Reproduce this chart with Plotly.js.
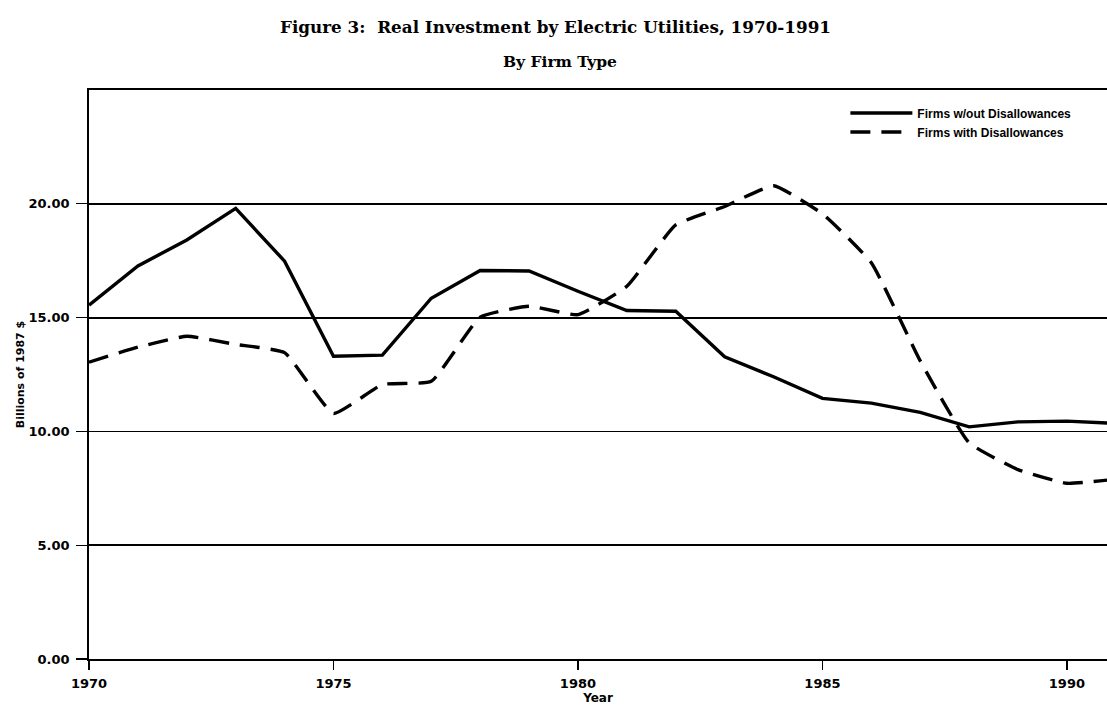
<!DOCTYPE html>
<html>
<head>
<meta charset="utf-8">
<script src="https://cdn.plot.ly/plotly-3.0.1.min.js"></script>
<style>
html,body{margin:0;padding:0;background:#fff;}
#chart{width:1107px;height:708px;}
</style>
</head>
<body>
<div id="chart"></div>
<script>
const years = [1970,1971,1972,1973,1974,1975,1976,1977,1978,1979,1980,1981,1982,1983,1984,1985,1986,1987,1988,1989,1990,1991];
const withoutDisallowances = [15.55,17.27,18.41,19.8,17.48,13.3,13.35,15.85,17.07,17.05,16.16,15.31,15.28,13.28,12.4,11.45,11.24,10.84,10.2,10.42,10.45,10.35];
const withDisallowances = [13.04,13.7,14.18,13.82,13.46,10.79,12.06,12.2,15.02,15.5,15.13,16.38,19.07,19.88,20.79,19.56,17.41,13.1,9.5,8.32,7.72,7.9];
const seriesNames = ["Firms w/out Disallowances","Firms with Disallowances"];
const yTicks = [0,5,10,15,20];
const xTicks = [1970,1975,1980,1985,1990];
const titleText = "Figure 3:  Real Investment by Electric Utilities, 1970-1991";
const subtitleText = "By Firm Type";

const sansBold = "DejaVu Sans, Liberation Sans, Arial, sans-serif";
const legendFont = "Liberation Sans, Arial, sans-serif";
const serif = "DejaVu Serif, Liberation Serif, serif";

const traces = [
  {x: years, y: withoutDisallowances, name: seriesNames[0], type: 'scatter', mode: 'lines',
   line: {color: '#000', width: 3.4, shape: 'linear'}},
  {x: years, y: withDisallowances, name: seriesNames[1], type: 'scatter', mode: 'lines',
   line: {color: '#000', width: 3.4, dash: '20px,11px', shape: 'spline', smoothing: 0.4}}
];

const layout = {
  width: 1107, height: 708,
  margin: {l: 89, r: 0, t: 90, b: 49},
  paper_bgcolor: '#fff', plot_bgcolor: '#fff',
  showlegend: true,
  annotations: [
    {text: '<b>' + titleText + '</b>', xref: 'paper', yref: 'paper', x: 0.458, y: (659-27)/569,
     xanchor: 'center', yanchor: 'middle', showarrow: false,
     font: {family: serif, size: 16.8, color: '#000'}},
    {text: '<b>' + subtitleText + '</b>', xref: 'paper', yref: 'paper', x: 0.463, y: (659-61)/569,
     xanchor: 'center', yanchor: 'middle', showarrow: false,
     font: {family: serif, size: 15.5, color: '#000'}}
  ],
  xaxis: {
    range: [1970, 1990.82], tickvals: xTicks, ticktext: xTicks.map(String),
    showgrid: false, zeroline: false,
    showline: true, linecolor: '#000', linewidth: 1.8, mirror: true,
    ticks: 'outside', ticklen: 9, tickwidth: 1.3, tickcolor: '#000',
    ticklabelstandoff: 3,
    tickfont: {family: sansBold, size: 13, color: '#000', weight: 'bold'},
    title: {text: '<b>Year</b>', font: {family: sansBold, size: 12, color: '#000'}, standoff: 1}
  },
  yaxis: {
    range: [0, 25], tickvals: yTicks, tickformat: '.2f',
    showgrid: true, gridcolor: '#000', gridwidth: 1.8, zeroline: false,
    showline: true, linecolor: '#000', linewidth: 1.8, mirror: false,
    ticks: 'outside', ticklen: 11, tickwidth: 1.3, tickcolor: '#000',
    ticklabelstandoff: 4,
    tickfont: {family: sansBold, size: 13, color: '#000', weight: 'bold'},
    title: {text: '<b>Billions of 1987 $</b>', font: {family: sansBold, size: 11, color: '#000'}, standoff: 2}
  },
  legend: {
    x: 0.743, xanchor: 'left', y: 0.985, yanchor: 'top',
    bgcolor: 'rgba(0,0,0,0)', borderwidth: 0,
    font: {family: legendFont, size: 12, color: '#000', weight: 'bold'},
    itemwidth: 62, tracegroupgap: 0
  }
};

Plotly.newPlot('chart', traces, layout, {displayModeBar: false, staticPlot: true});
</script>
</body>
</html>
